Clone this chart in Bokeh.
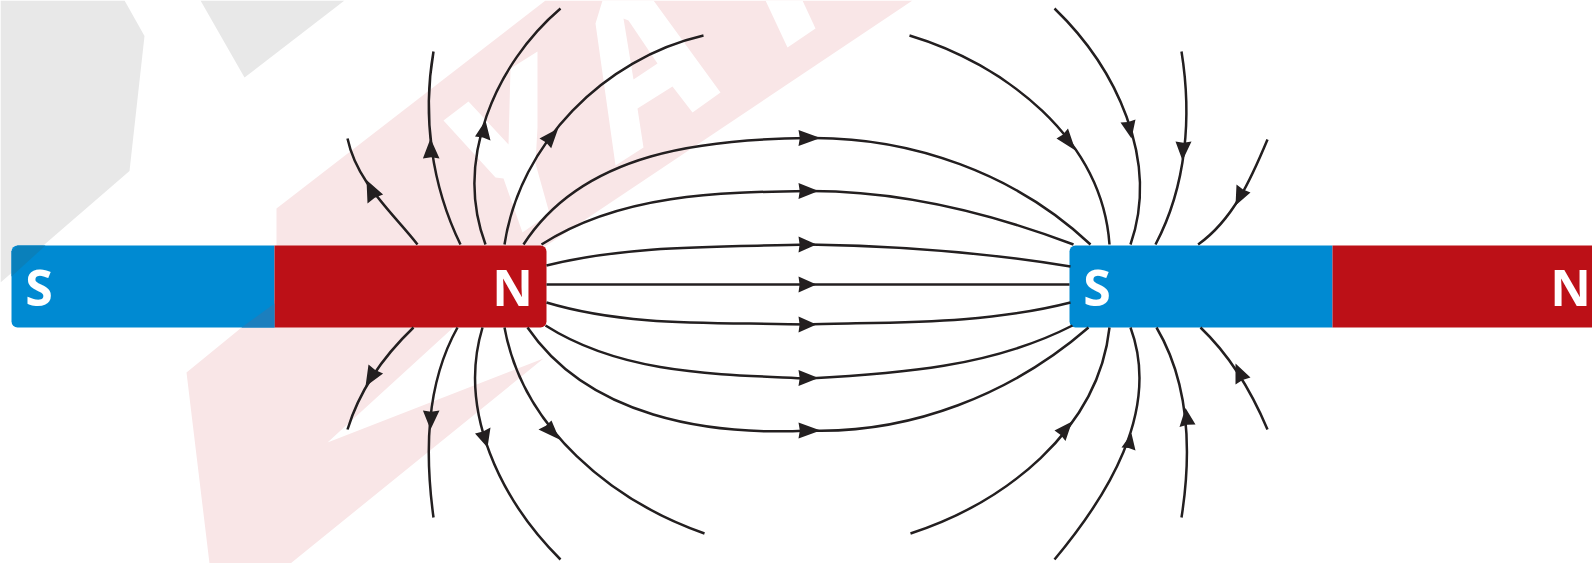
import numpy as np
from bokeh.plotting import figure
from bokeh.models import Range1d
from bokeh.core.properties import value
from bokeh.embed import file_html
from bokeh.resources import INLINE

# --- magnets (left, right edges; shared top/bottom) ---
magnet_top, magnet_bottom = 245, 327
blue_left = [11, 1069]
blue_right = [274, 1332]
red_left = [274, 1332]
red_right = [546, 1600]
pole_labels = ["S", "N", "S", "N"]
pole_x = [38.5, 512, 1096.5, 1570]
pole_y = [286, 286, 286, 286]

# --- field lines between the two poles, N half then S half ---
arc_n_x = [
    [523, 547, 587, 637, 687, 737, 808],
    [541, 587, 637, 687, 737, 808],
    [546, 612, 689, 808],
    [546, 808],
    [546, 612, 689, 808],
    [545, 587, 637, 687, 737, 808],
    [527, 553, 587, 637, 687, 737, 808],
]
arc_n_y = [
    [244, 212, 182, 160, 148, 141, 137.5],
    [244, 220, 205, 197, 192, 190.5],
    [265, 253, 247, 244],
    [284, 284],
    [302, 316, 322, 324],
    [325, 347, 362, 370, 375, 378],
    [327, 359, 385, 409, 422, 429, 430],
]
arc_s_x = [
    [808, 860, 910, 960, 1010, 1050, 1073, 1090],
    [808, 860, 910, 960, 1010, 1047, 1073],
    [808, 894, 971, 1070],
    [808, 1069],
    [808, 894, 971, 1070],
    [808, 860, 910, 960, 1010, 1047, 1072],
    [808, 860, 910, 960, 1010, 1050, 1073, 1088],
]
arc_s_y = [
    [137.5, 140, 150, 163, 185, 212, 232, 244],
    [190.5, 193, 199, 208, 223, 235, 244],
    [244, 247, 253, 266],
    [284, 284],
    [324, 322, 318, 302],
    [378, 375, 370, 362, 350, 337, 325],
    [430, 428, 419, 404, 382, 355, 339, 327],
]

# --- open field lines at the N pole ---
n_fan_x = [
    [703, 638, 597, 556, 525.5, 510, 504],
    [560, 525.5, 497, 482, 474.5, 475.5, 485],
    [433, 428.6, 430, 439, 460],
    [347, 365, 388, 417],
    [504, 513, 536, 559, 612, 704],
    [482, 474.5, 477, 487, 520, 560],
    [457, 439, 430, 428.6, 433],
    [413, 388, 367, 347],
]
n_fan_y = [
    [35, 59, 88, 129, 176, 212, 244],
    [8, 45, 90, 126, 172, 208, 244],
    [51, 97, 140, 187, 244],
    [138, 180, 210, 244],
    [327, 363, 406, 438, 485, 533],
    [327, 363, 406, 447, 510, 559],
    [327, 370, 416.5, 467, 517],
    [327, 354, 384, 429],
]

# --- open field lines at the S pole ---
s_fan_x = [
    [909, 971, 1022, 1067.5, 1093, 1106, 1109],
    [1054, 1093, 1129, 1139, 1139, 1130],
    [1181, 1186, 1182, 1172, 1155],
    [1267, 1241, 1220.6, 1197.6],
    [1109, 1103, 1072.6, 1021.6, 971, 910],
    [1130, 1139, 1131, 1108, 1054],
    [1156, 1175, 1185, 1186, 1181],
    [1200, 1231, 1248.6, 1267],
]
s_fan_y = [
    [35, 61, 93, 140, 180, 212, 244],
    [8, 54, 126, 172, 208, 244],
    [51, 100.5, 158, 205, 244],
    [139, 194, 223, 244],
    [327, 363, 420, 474, 506, 533],
    [327, 370, 431, 481, 559],
    [327, 370, 420, 467, 517],
    [327, 363, 391, 429],
]

# --- arrow heads: tip and the two base corners ---
tip_x = [820, 818, 816, 816, 816, 818, 820,
         557.7, 485, 430, 366, 559, 487, 430, 365,
         1075, 1131, 1182, 1235, 1071.6, 1131, 1185, 1235]
tip_y = [137.5, 190.5, 244, 284, 324, 377.5, 430,
         128, 120, 138, 179.5, 439, 447, 429, 386,
         150, 138, 160, 205, 421, 433, 407.5, 363]
base_a_x = [798, 798, 798, 798, 798, 798, 798,
            539, 474.5, 422.4, 367, 551, 474.5, 422.4, 368,
            1056, 1120, 1175, 1236, 1054, 1121, 1179, 1235]
base_a_y = [129.5, 182.5, 236, 276, 316, 369.5, 422,
            138, 136, 158, 203, 420, 433, 410, 364,
            138, 122, 141, 184, 430, 447, 426.6, 384]
base_b_x = [798, 798, 798, 798, 798, 798, 798,
            550.7, 490, 439, 382.6, 538, 490, 439, 382.6,
            1067.5, 1135, 1191, 1250, 1065, 1135, 1195, 1250]
base_b_y = [145.5, 198.5, 252, 292, 332, 385.5, 438,
            147.7, 140, 158, 194, 429, 427, 410, 373,
            128, 119, 141, 192, 440.6, 450, 424, 377]

# --- watermark shapes ---
gray_x = [[0, 124, 144, 129, 0], [200, 244, 344]]
gray_y = [[0, 0, 35.5, 170.5, 282], [0, 77, 0]]
pink_x = [[276, 545, 912, 543, 276], [186, 209, 290, 543, 327, 455, 274]]
pink_y = [[208, 0, 0, 247, 247], [372, 563, 563, 358, 442, 325, 300]]
letter_x = [
    [443, 468, 508, 510, 537, 537, 535, 549, 522, 503, 495],
    [595, 602, 653, 720, 692, 672, 637, 643, 615],
    [765, 787, 815, 802],
]
letter_y = [
    [120, 101, 144, 68, 51, 127, 163, 213, 232, 178, 177],
    [23, 0, 0, 92, 112, 86, 108, 147, 165],
    [0, 47, 28, 0],
]
hole_x = [[623, 633, 657, 628]]
hole_y = [[18, 79, 63, 20]]
shade_blue_x = [[17, 45, 11, 11]]
shade_blue_y = [[245, 245, 276, 251]]
shade_pink_x = [[274, 274, 241]]
shade_pink_y = [[303, 327, 327]]

LINE = "#231f20"
BLUE = "#008ad2"
RED = "#bc1017"

p = figure(width=1592, height=563, output_backend="svg", toolbar_location=None,
           x_range=Range1d(0, 1592), y_range=Range1d(563, 0),
           x_axis_location=None, y_axis_location=None, min_border=0,
           outline_line_color=None, background_fill_color="white")
p.grid.visible = False

p.patches(gray_x, gray_y, fill_color="#e8e8e8", line_color=None)
p.patches(pink_x, pink_y, fill_color="#f9e6e7", line_color=None)
p.patches(letter_x, letter_y, fill_color="white", line_color=None)
p.patches(hole_x, hole_y, fill_color="#f9e6e7", line_color=None)

p.quad(left=blue_left[:1], right=blue_right[:1], top=[magnet_top], bottom=[magnet_bottom],
       fill_color=BLUE, line_color=None, border_radius=(6, 0, 0, 6))
p.quad(left=blue_left[1:], right=blue_right[1:], top=[magnet_top], bottom=[magnet_bottom],
       fill_color=BLUE, line_color=None, border_radius=(6, 0, 0, 6))
p.quad(left=red_left[:1], right=red_right[:1], top=[magnet_top], bottom=[magnet_bottom],
       fill_color=RED, line_color=None, border_radius=(0, 6, 6, 0))
p.quad(left=red_left[1:], right=red_right[1:], top=[magnet_top], bottom=[magnet_bottom],
       fill_color=RED, line_color=None)
p.patches(shade_blue_x, shade_blue_y, fill_color="#0a80bb", line_color=None)
p.patches(shade_pink_x, shade_pink_y, fill_color="#1c7fbe", line_color=None)

p.text(pole_x, pole_y, text=pole_labels, text_color="white", text_align="center",
       text_baseline="alphabetic", text_font=value("Open Sans"), text_font_style="bold",
       text_font_size="50px")


def fit_cubic(xs, ys):
    """Least-squares single cubic Bezier through the read points, ends fixed."""
    P = np.column_stack([xs, ys]).astype(float)
    if len(P) == 2:
        d = P[1] - P[0]
        return P[0], P[0] + d / 3, P[1] - d / 3, P[1]
    s = np.r_[0, np.cumsum(np.hypot(*np.diff(P, axis=0).T))]
    t = s / s[-1]
    for _ in range(5):
        b0, b1, b2, b3 = (1 - t) ** 3, 3 * t * (1 - t) ** 2, 3 * t ** 2 * (1 - t), t ** 3
        A = np.column_stack([b1, b2])
        R = P - np.outer(b0, P[0]) - np.outer(b3, P[-1])
        C, *_ = np.linalg.lstsq(A, R, rcond=None)
        curve = np.outer(b0, P[0]) + np.outer(b1, C[0]) + np.outer(b2, C[1]) + np.outer(b3, P[-1])
        ds = np.r_[0, np.cumsum(np.hypot(*np.diff(curve, axis=0).T))]
        t = ds / ds[-1]
    return P[0], C[0], C[1], P[-1]


all_x = arc_n_x + arc_s_x + n_fan_x + s_fan_x
all_y = arc_n_y + arc_s_y + n_fan_y + s_fan_y
fits = [fit_cubic(a, b) for a, b in zip(all_x, all_y)]
p.bezier(x0=[f[0][0] for f in fits], y0=[f[0][1] for f in fits],
         x1=[f[3][0] for f in fits], y1=[f[3][1] for f in fits],
         cx0=[f[1][0] for f in fits], cy0=[f[1][1] for f in fits],
         cx1=[f[2][0] for f in fits], cy1=[f[2][1] for f in fits],
         line_color=LINE, line_width=2.5)

# arrow heads with a very shallow notch in the base
hx, hy = [], []
for tx, ty, ax, ay, bx, by in zip(tip_x, tip_y, base_a_x, base_a_y, base_b_x, base_b_y):
    mx, my = (ax + bx) / 2, (ay + by) / 2
    hx.append([tx, ax, mx + (tx - mx) * 0.06, bx])
    hy.append([ty, ay, my + (ty - my) * 0.06, by])
p.patches(hx, hy, fill_color=LINE, line_color=None)

open("out.html", "w").write(file_html(p, INLINE))
